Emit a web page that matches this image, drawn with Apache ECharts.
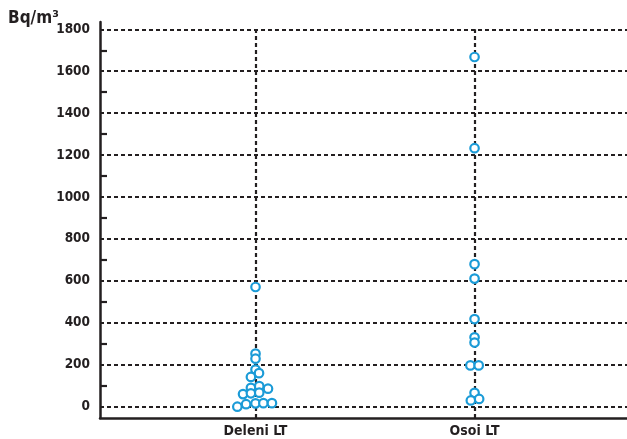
<!DOCTYPE html>
<html><head><meta charset="utf-8">
<script src="https://cdn.jsdelivr.net/npm/echarts@6/dist/echarts.min.js"></script>
<style>html,body{margin:0;padding:0;background:#fff}#c{width:627px;height:439px}</style>
</head><body><div id="c"></div>
<script>
const categories = ['Deleni LT', 'Osoi LT'];
const unitLabel = 'Bq/m³';
const deleniValues  = [571, 253, 229, 177, 160, 142, 90, 98, 86, 60, 64, 67, 0, 12, 16, 17, 17];
const deleniOffsets = [0, 0, 0, 0, 0.016, -0.021, -0.021, 0.017, 0.057, -0.057, -0.021, 0.017, -0.083, -0.043, 0, 0.036, 0.075];
const osoiValues  = [1668, 1233, 680, 611, 418, 331, 306, 197, 197, 66, 30, 37];
const osoiOffsets = [0, 0, 0, 0, 0, 0, 0, -0.019, 0.019, 0, -0.017, 0.021];
const yMin = 0, yMax = 1800, yStep = 200;

const FONT = "'Liberation Sans Narrow','DejaVu Sans Condensed','Roboto',sans-serif";
const INK = '#231f20';
const DOT = '#1b9bd7';

function pts(idx, offs, vals) { return vals.map((v, i) => [idx + 1 + offs[i], v]); }
const data = pts(0, deleniOffsets, deleniValues).concat(pts(1, osoiOffsets, osoiValues));

const xMin = 0.29, xMax = 2.696;
const chart = echarts.init(document.getElementById('c'), null, {renderer: 'canvas'});
chart.setOption({
  animation: false,
  title: {text: unitLabel, left: 8, top: 10, padding: 0,
    textStyle: {fontFamily: FONT, fontWeight: 'bold', fontSize: 17, color: INK}},
  grid: [
    {left: 100, right: 0, top: 29.3, bottom: 32.3},
    {left: 100, right: 0, top: 22, bottom: 21}
  ],
  xAxis: [
    {gridIndex: 0, type: 'value', min: xMin, max: xMax, show: false},
    {gridIndex: 1, type: 'value', min: xMin, max: xMax,
      axisLine: {show: true, onZero: false, lineStyle: {color: INK, width: 2.5}},
      axisTick: {show: false}, splitLine: {show: false},
      axisLabel: {customValues: [1, 2], formatter: v => categories[Math.round(v) - 1] || '',
        fontFamily: FONT, fontWeight: 'bold', fontSize: 14, color: INK, margin: 6}}
  ],
  yAxis: [
    {gridIndex: 0, type: 'value', min: yMin, max: yMax, interval: yStep,
      axisLine: {show: false}, axisTick: {show: false, inside: true},
      minorTick: {show: true, splitNumber: 2, length: 7, lineStyle: {color: INK, width: 2.2}},
      axisLabel: {formatter: v => String(v), fontFamily: FONT, fontWeight: 'bold', fontSize: 13.5, color: INK, margin: 10},
      splitLine: {show: true, lineStyle: {color: INK, width: 2.2, type: [4, 3]}}},
    {gridIndex: 1, type: 'value', min: -54, max: 1835,
      axisLine: {show: true, onZero: false, lineStyle: {color: INK, width: 2.5}},
      axisTick: {show: false}, axisLabel: {show: false}, splitLine: {show: false}}
  ],
  series: [
    {type: 'scatter', xAxisIndex: 1, yAxisIndex: 1, data: [], silent: true,
      markLine: {silent: true, symbol: ['none', 'none'], label: {show: false},
        lineStyle: {color: INK, width: 2.2, type: [4, 3]},
        data: categories.map((c, i) => [{coord: [i + 1, -54]}, {coord: [i + 1, yMax]}])}},
    {type: 'scatter', xAxisIndex: 0, yAxisIndex: 0, data: data, clip: false, z: 5,
      symbol: 'circle', symbolSize: 8.5,
      itemStyle: {color: '#fff', borderColor: DOT, borderWidth: 2.2, opacity: 1}}
  ]
});
</script></body></html>
